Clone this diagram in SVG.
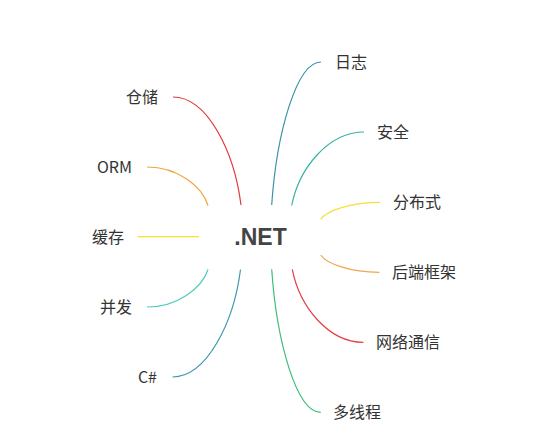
<svg xmlns="http://www.w3.org/2000/svg" width="538" height="441" viewBox="0 0 538 441">
<style>
.bg{fill:#ffffff}
.e{fill:none;stroke-width:1.2}
.t{font-family:"Noto Sans CJK SC","Liberation Sans",sans-serif;font-size:16px;fill:#333333}
.l{text-anchor:end}
.root{font-family:"Liberation Sans","Noto Sans CJK SC",sans-serif;font-size:23px;font-weight:bold;fill:#444444;text-anchor:middle}
</style>
<rect class="bg" x="0" y="0" width="538" height="441"/>
<g id="connectors">
<path class="e" stroke="#e3393c" d="M241,205 C234.2,151 207,97 173,97"/>
<path class="e" stroke="#f2a43f" d="M208,205.5 C202,186 177.5,167 147,167"/>
<path class="e" stroke="#f2e233" d="M199,236.7 L137.5,236.7"/>
<path class="e" stroke="#4ecbbd" d="M208,269.5 C202,288 177.5,307 147,307"/>
<path class="e" stroke="#3d98ae" d="M240.5,269.5 C233.7,323 206.5,377 172.5,377"/>
<path class="e" stroke="#3a93a6" d="M271.7,205 C276.6,133.5 296.4,62 321,62"/>
<path class="e" stroke="#37b3a2" d="M291.7,205.5 C298.9,168.8 327.9,132 364,132"/>
<path class="e" stroke="#f3e03c" d="M320.7,219.3 C326.6,210.8 350.4,202.3 380,202.3"/>
<path class="e" stroke="#f0a64c" d="M320.7,255 C326.6,263.7 350,272.3 379.3,272.3"/>
<path class="e" stroke="#e33f44" d="M292.3,269.3 C299.4,305.8 327.8,342.3 363.3,342.3"/>
<path class="e" stroke="#3dbd7b" d="M271.7,269.3 C276.6,340.8 296.2,412.3 320.7,412.3"/>
</g>
<g id="node-root"><text class="root" x="260.5" y="245">.NET</text></g>
<g id="node-cangchu"><text class="t l" x="158" y="103">仓储</text></g>
<g id="node-orm"><text class="t l" x="132" y="173">ORM</text></g>
<g id="node-huancun"><text class="t l" x="124" y="243">缓存</text></g>
<g id="node-bingfa"><text class="t l" x="132" y="313">并发</text></g>
<g id="node-csharp"><text class="t l" x="157" y="383">C#</text></g>
<g id="node-rizhi"><text class="t" x="335" y="68">日志</text></g>
<g id="node-anquan"><text class="t" x="377" y="138">安全</text></g>
<g id="node-fenbushi"><text class="t" x="393" y="208">分布式</text></g>
<g id="node-houduan"><text class="t" x="392" y="278">后端框架</text></g>
<g id="node-wangluo"><text class="t" x="376" y="348">网络通信</text></g>
<g id="node-duoxiancheng"><text class="t" x="333" y="418">多线程</text></g>
</svg>
